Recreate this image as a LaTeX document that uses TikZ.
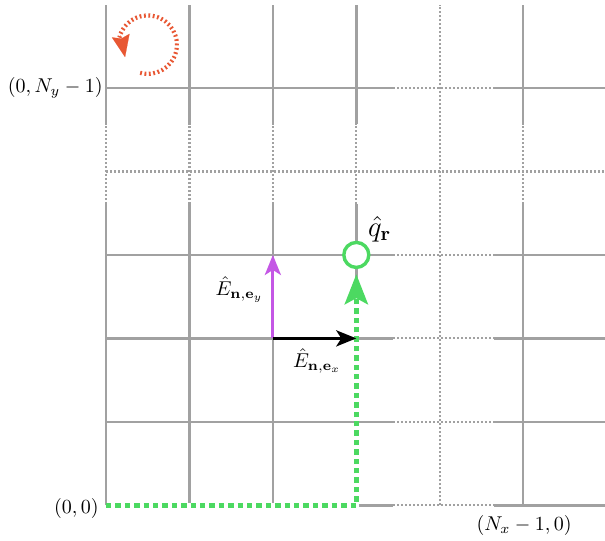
\documentclass[tikz,border=0pt]{standalone}
\usetikzlibrary{arrows.meta}
\definecolor{gridgray}{rgb}{0.63,0.63,0.63}
\definecolor{pathgreen}{rgb}{0.30,0.85,0.38}
\definecolor{rotorange}{rgb}{0.91,0.34,0.20}
\definecolor{eymagenta}{rgb}{0.77,0.34,0.90}
\tikzset{
  gsolid/.style={draw=gridgray, line width=1.25pt},
  gdot/.style={draw=gridgray, line width=1.1pt, dash pattern=on 1.1pt off 0.9pt},
  vecarrow/.style={line width=1.6pt, -{Stealth[length=10pt,width=8pt,inset=2.5pt]}},
  greenpath/.style={draw=pathgreen, line width=2.6pt, dash pattern=on 2.7pt off 2pt,
    -{Stealth[length=15pt,width=11.5pt,inset=3pt]}},
  greenunder/.style={draw=white, line width=2.6pt},
  rotdots/.style={draw=rotorange, line width=2.1pt, dash pattern=on 0.9pt off 1.3pt},
  rothead/.style={draw=rotorange, fill=rotorange, line width=0.1pt,
    -{Stealth[length=11pt,width=9pt,inset=1.5pt]}},
  lbl/.style={inner sep=0pt, font=\normalsize}
}
\begin{document}
\begin{tikzpicture}[x=41.7pt,y=41.7pt]
\useasboundingbox (-1.27,-0.42) rectangle (5.98,6.055);
% grid: horizontal lines
\foreach \j in {0,1,2,3,5}{
  \draw[gsolid] (0,\j) -- (3.44,\j);
  \draw[gdot] (3.44,\j) -- (4.65,\j);
  \draw[gsolid] (4.65,\j) -- (6,\j);
}
\draw[gdot] (0,4) -- (6,4);
% grid: vertical lines
\foreach \i in {0,1,2,3,5}{
  \draw[gsolid] (\i,0) -- (\i,3.61);
  \draw[gdot] (\i,3.61) -- (\i,4.57);
  \draw[gsolid] (\i,4.57) -- (\i,6);
}
\draw[gdot] (4,0) -- (4,6);
% coordinates
\coordinate (O) at (0,0);
\coordinate (G1) at (3,0);
\coordinate (A) at (2,2);
\coordinate (B) at (3,2);
\coordinate (C) at (2,3);
\coordinate (R) at (0.5,5.52);
\coordinate (Rb) at ([shift={(161:0.343)}]R);
\coordinate (Rt) at ([shift={(209:0.31)}]R);
% target circle
\node[circle, draw=pathgreen, fill=white, line width=1.7pt, minimum size=12.5pt, inner sep=0pt] (Q) at (3,3) {};
% green path
\draw[greenunder] (O) -- (G1) -- ([yshift=-12pt]Q.south);
\draw[greenpath] (O) -- (G1) -- ([yshift=-2.5pt]Q.south);
% vectors
\draw[vecarrow, draw=eymagenta, fill=eymagenta] (A) -- (C);
\draw[vecarrow, draw=black, fill=black] (A) -- (B);
% rotation arrow
\draw[rotdots] ([shift={(-105:0.35)}]R) arc[start angle=-105, end angle=166, radius=0.35];
\draw[rothead] (Rb) -- (Rt);
% labels
\node[lbl, anchor=east] (lNy) at ([xshift=-1.5pt]0,5) {$(0,N_y-1)$};
\node[lbl, anchor=east] (l00) at ([xshift=-3.5pt,yshift=-1.5pt]O) {$(0,0)$};
\node[lbl] (lNx) at (5.01,-0.24) {$(N_x-1,0)$};
\node[lbl] (lEy) at (1.6,2.58) {$\hat{E}_{\mathbf{n},\mathbf{e}_y}$};
\node[lbl] (lEx) at (2.53,1.73) {$\hat{E}_{\mathbf{n},\mathbf{e}_x}$};
\node[lbl, font=\Large] (lq) at (3.28,3.31) {$\hat{q}_{\mathbf{r}}$};
\end{tikzpicture}
\end{document}
